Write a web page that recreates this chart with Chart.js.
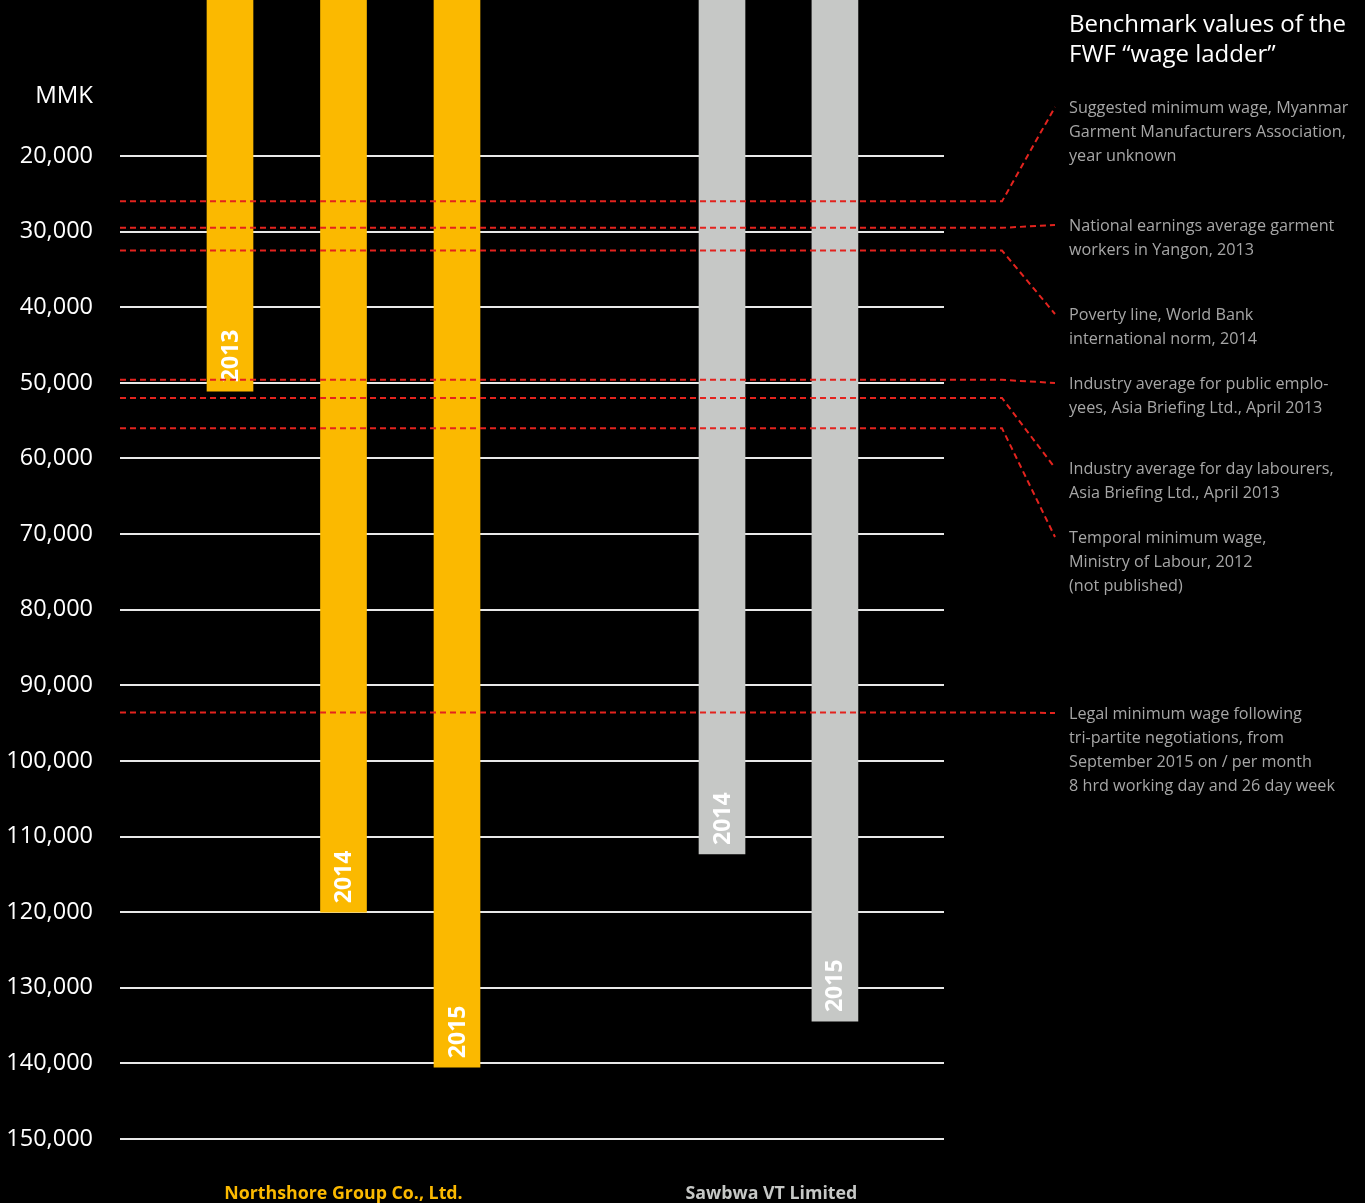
<!DOCTYPE html>
<html>
<head>
<meta charset="utf-8">
<script src="https://cdn.jsdelivr.net/npm/chart.js@4.4.1/dist/chart.umd.min.js"></script>
<style>
  html, body { margin: 0; padding: 0; background: #000; }
  #wrap { position: relative; width: 1365px; height: 1203px; }
  #wageChart { position: absolute; left: 0; top: 0; }
  .panel { position: absolute; left: 1069px; font-family: "Open Sans", sans-serif; }
  .title { top: 8px; color: #fff; font-size: 24px; line-height: 30px; }
  .note { color: #a6a6a6; font-size: 16.2px; line-height: 24px; white-space: nowrap; }
</style>
</head>
<body>
<div id="wrap">
  <canvas id="wageChart" width="1365" height="1203"></canvas>
  <div class="panel title">Benchmark values of the<br>FWF “wage ladder”</div>
  <div id="notes"></div>
</div>
<script>
const Y_MIN = -631;
const Y_MAX = 154760;
const TICK_VALUES = [20000, 30000, 40000, 50000, 60000, 70000, 80000, 90000, 100000, 110000, 120000, 130000, 140000, 150000];

const companies = ["Northshore Group Co., Ltd.", "Sawbwa VT Limited"];
const companySlots = [2, 5.77];

const northshoreYears = ["2013", "2014", "2015"];
const northshoreSlots = [1, 2, 3];
const northshoreWages = [51100, 120000, 140500];

const sawbwaYears = ["2014", "2015"];
const sawbwaSlots = [5.335, 6.33];
const sawbwaWages = [112300, 134400];

const benchmarkValues = [26000, 29500, 32500, 49600, 52000, 56000, 93600];
const benchmarkLabels = [
  ["Suggested minimum wage, Myanmar", "Garment Manufacturers Association,", "year unknown"],
  ["National earnings average garment", "workers in Yangon, 2013"],
  ["Poverty line, World Bank", "international norm, 2014"],
  ["Industry average for public emplo-", "yees, Asia Briefing Ltd., April 2013"],
  ["Industry average for day labourers,", "Asia Briefing Ltd., April 2013"],
  ["Temporal minimum wage,", "Ministry of Labour, 2012", "(not published)"],
  ["Legal minimum wage following", "tri-partite negotiations, from", "September 2015 on / per month", "8 hrd working day and 26 day week"]
];
// y of first text line of each note (connector end point)
const noteAnchors = [107, 225, 314, 383, 468, 537, 713];

const YELLOW = "#fbb900";
const GREY = "#c6c8c6";
const RED = "#e3231e";
const FONT = "'Open Sans', sans-serif";

const notesEl = document.getElementById("notes");
benchmarkLabels.forEach((lines, i) => {
  const div = document.createElement("div");
  div.className = "panel note";
  div.style.top = (noteAnchors[i] - 12) + "px";
  div.innerHTML = lines.join("<br>");
  notesEl.appendChild(div);
});

const extrasPlugin = {
  id: "extras",
  afterDatasetsDraw(chart) {
    const { ctx, chartArea, scales } = chart;
    const yScale = scales.y;

    // year labels inside bars
    chart.data.datasets.forEach((ds, di) => {
      const meta = chart.getDatasetMeta(di);
      meta.data.forEach((bar, i) => {
        ctx.save();
        ctx.translate(bar.x, bar.y - 9);
        ctx.rotate(-Math.PI / 2);
        ctx.fillStyle = "#fff";
        ctx.font = "bold 23px " + FONT;
        ctx.textAlign = "left";
        ctx.textBaseline = "middle";
        ctx.fillText(ds.years[i], 0, 1);
        ctx.restore();
      });
    });

    // benchmark dashed connectors
    ctx.save();
    ctx.strokeStyle = RED;
    ctx.lineWidth = 2;
    ctx.setLineDash([6, 4]);
    benchmarkValues.forEach((v, i) => {
      const y = yScale.getPixelForValue(v);
      ctx.beginPath();
      ctx.moveTo(chartArea.left, y);
      ctx.lineTo(1002, y);
      ctx.lineTo(1055, noteAnchors[i]);
      ctx.stroke();
    });
    ctx.restore();

    // unit label
    ctx.save();
    ctx.fillStyle = "#fff";
    ctx.font = "24px " + FONT;
    ctx.textAlign = "right";
    ctx.textBaseline = "middle";
    ctx.fillText("MMK", chartArea.left - 27, 96);
    ctx.restore();
  }
};

new Chart(document.getElementById("wageChart"), {
  type: "bar",
  data: {
    datasets: [
      {
        label: companies[0],
        years: northshoreYears,
        data: northshoreSlots.map((x, i) => ({ x, y: northshoreWages[i] })),
        backgroundColor: YELLOW,
      },
      {
        label: companies[1],
        years: sawbwaYears,
        data: sawbwaSlots.map((x, i) => ({ x, y: sawbwaWages[i] })),
        backgroundColor: GREY,
      },
    ],
  },
  options: {
    responsive: false,
    animation: false,
    layout: { padding: { top: 0, right: 421, bottom: 0, left: 0 } },
    datasets: {
      bar: { grouped: false, barThickness: 46, base: Y_MIN, borderWidth: 0 },
    },
    plugins: {
      legend: { display: false },
      tooltip: { enabled: false },
    },
    scales: {
      x: {
        type: "linear",
        offset: false,
        min: 0.0308,
        max: 7.291,
        afterFit: (axis) => { axis.height = 28; },
        grid: { display: false, drawTicks: false },
        border: { display: false },
        afterBuildTicks: (axis) => {
          axis.ticks = companySlots.map((v) => ({ value: v }));
        },
        ticks: {
          padding: 8,
          autoSkip: false,
          maxRotation: 0,
          font: { family: FONT, size: 17.8, weight: "bold" },
          color: (c) => (c.index === 0 ? YELLOW : GREY),
          callback: (v, i) => companies[i],
        },
      },
      y: {
        type: "linear",
        reverse: true,
        min: Y_MIN,
        max: Y_MAX,
        afterFit: (axis) => {
          axis.width = 120;
          axis.paddingTop = 0;
          axis.paddingBottom = 0;
        },
        afterBuildTicks: (axis) => {
          axis.ticks = TICK_VALUES.map((v) => ({ value: v }));
        },
        grid: { color: "#e8e8e8", lineWidth: 2, drawTicks: false },
        border: { display: false },
        ticks: {
          padding: 27,
          color: "#fff",
          font: { family: FONT, size: 23.5 },
          callback: (v) => v.toLocaleString("en-US"),
        },
      },
    },
  },
  plugins: [extrasPlugin],
});
</script>
</body>
</html>
